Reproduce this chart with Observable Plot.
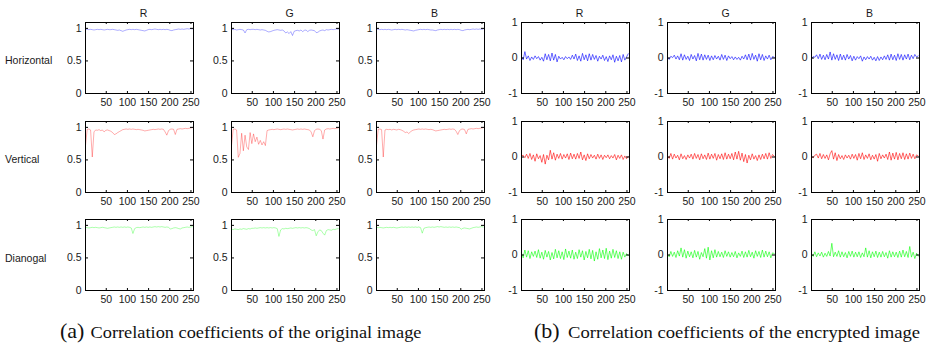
<!DOCTYPE html>
<html><head><meta charset="utf-8">
<script src="https://cdn.jsdelivr.net/npm/d3@7"></script>
<script src="https://cdn.jsdelivr.net/npm/@observablehq/plot@0.6"></script>
<style>
body{margin:0;background:#fff;}
#fig{position:relative;width:930px;height:343px;overflow:hidden;}
#fig svg.panel{position:absolute;}
#overlay{position:absolute;left:0;top:0;pointer-events:none;}
</style></head><body><div id="fig"></div>
<script>
// ---------- data ----------
const channels = ["R", "G", "B"];
const directions = ["Horizontal", "Vertical", "Dianogal"];
const captions = ["Correlation coefficients of the original image", "Correlation coefficients of the encrypted image"];
const captionTags = ["(a)", "(b)"];
const xTicks = [50, 100, 150, 200, 250];
const yTicksOrig = [0, 0.5, 1];
const yTicksEnc = [-1, 0, 1];
const sampleStart = 1, sampleStep = 4;   // pixel positions 1,5,9,...,253

// original image: horizontal
const hR = [0.99,0.985,0.98,0.985,0.98,0.975,0.98,0.985,0.98,0.985,0.98,
0.975,0.98,0.985,0.98,0.98,0.985,0.98,0.975,0.97,0.975,
0.965,0.955,0.965,
0.975,0.98,0.985,0.98,0.985,0.98,0.985,0.98,0.975,0.97,
0.965,0.96,0.97,
0.98,0.985,0.98,0.985,0.99,0.985,0.98,0.985,0.98,0.985,0.98,0.985,0.98,
0.97,0.965,0.975,
0.98,0.985,0.99,0.985,0.99,0.985,0.99,0.995,0.99,0.995,0.99];
const hG = [0.985,0.98,0.985,0.975,0.98,0.985,0.98,0.975,
0.93,
0.98,0.985,0.98,0.985,0.985,0.98,0.985,0.98,0.975,0.98,0.975,0.97,
0.955,0.945,0.95,0.96,
0.97,0.975,0.98,0.975,0.97,0.975,0.96,
0.93,0.945,0.92,0.95,0.89,0.955,
0.965,0.97,0.96,0.975,0.95,0.97,0.975,0.95,0.97,0.975,0.97,0.965,
0.935,0.94,0.96,
0.97,0.975,0.965,0.98,0.975,0.98,0.985,0.98,0.985,0.99,0.985];
const hB = [0.99,0.985,0.98,0.985,0.98,0.985,0.98,0.985,0.98,0.975,0.98,
0.985,0.98,0.985,0.98,0.985,0.98,0.975,0.98,0.975,0.97,
0.965,0.96,0.97,
0.975,0.98,0.985,0.98,0.985,0.98,0.985,0.98,0.975,0.975,
0.97,0.965,0.975,
0.98,0.985,0.98,0.985,0.98,0.985,0.98,0.985,0.98,0.985,0.98,0.985,0.98,
0.97,0.965,0.975,
0.98,0.985,0.98,0.985,0.99,0.985,0.99,0.985,0.99,0.985,0.99];
// original image: vertical
const vR = [0.72,
0.97,0.975,0.96,
0.545,
0.93,0.96,0.955,0.965,0.95,0.96,
0.93,
0.955,0.96,0.95,0.94,
0.92,0.89,0.9,0.92,0.935,
0.95,0.965,0.97,0.975,0.97,0.975,0.97,0.975,0.97,0.965,0.97,0.965,0.96,
0.955,0.945,0.95,0.955,
0.96,0.965,0.97,0.965,0.97,0.975,0.97,0.975,0.97,
0.93,0.88,0.95,
0.97,0.975,0.97,
0.89,
0.97,0.975,0.98,0.975,0.98,0.985,0.98,0.985,0.99,0.995];
const vG = [0.72,
0.97,0.975,0.96,
0.54,0.6,0.91,0.64,0.88,0.7,0.66,0.92,0.75,0.9,0.78,0.85,0.74,0.8,0.73,0.78,0.72,
0.95,
0.96,0.965,0.97,0.965,0.97,0.975,0.97,0.965,0.97,0.975,0.97,0.975,0.97,0.965,0.96,0.965,0.97,0.975,0.97,0.975,0.97,0.975,0.97,0.965,0.96,
0.93,0.855,0.95,
0.97,0.975,0.97,
0.95,0.82,
0.96,0.975,0.98,0.975,0.98,0.985,0.98,0.985,0.99];
const vB = [0.72,
0.97,0.975,0.965,
0.545,
0.96,0.97,0.965,0.97,0.96,0.97,0.965,0.96,0.97,0.965,0.955,
0.94,0.92,0.93,0.905,0.93,0.95,
0.96,0.965,0.97,0.975,0.97,0.975,0.97,0.975,0.97,0.965,0.97,0.965,
0.955,0.945,0.95,0.955,
0.96,0.965,0.97,0.965,0.97,0.975,0.97,0.975,0.97,
0.94,0.89,0.95,
0.97,0.975,0.965,
0.9,
0.97,0.975,0.98,0.975,0.98,0.985,0.98,0.985,0.99,0.995];
// original image: diagonal
const dR = [0.97,0.965,0.96,0.965,0.97,0.965,0.97,0.965,0.96,0.965,0.97,0.965,0.96,0.955,0.96,0.965,0.97,0.975,0.97,0.975,0.97,0.975,0.97,0.975,0.97,0.975,0.97,0.96,
0.875,
0.95,
0.965,0.97,0.965,0.97,0.975,0.97,0.975,0.97,0.975,0.97,0.975,0.98,0.975,0.98,0.975,0.98,0.975,0.97,0.975,0.97,
0.945,0.95,
0.96,0.965,0.96,0.95,
0.945,
0.96,0.965,0.97,0.975,0.97,0.975,0.98];
const dG = [0.94,0.935,0.945,0.94,0.935,0.945,0.94,0.95,0.945,0.94,0.95,0.945,0.955,
0.955,0.96,0.955,0.96,0.965,0.96,0.965,0.96,0.965,0.96,0.965,0.96,0.965,0.96,0.95,
0.83,
0.93,
0.95,0.945,0.955,0.95,0.955,0.96,0.955,0.96,0.965,0.96,0.965,0.96,0.965,0.96,0.965,0.96,0.95,
0.93,0.92,0.935,
0.84,
0.9,0.93,0.92,
0.88,
0.85,
0.92,0.935,0.93,0.925,0.94,0.935,0.945,0.95];
const dB = [0.97,0.965,0.97,0.965,0.96,0.965,0.97,0.965,0.97,0.965,0.97,0.965,0.96,0.965,0.97,0.975,0.97,0.975,0.97,0.975,0.97,0.975,0.97,0.975,0.97,0.975,0.965,
0.88,
0.955,
0.965,0.97,0.975,0.97,0.975,0.97,0.975,0.98,0.975,0.98,0.975,0.97,0.975,0.97,0.975,0.97,0.975,0.97,0.975,0.97,0.965,
0.94,
0.955,0.96,0.955,0.95,
0.945,
0.955,0.965,0.97,0.975,0.97,0.975,0.98,0.975];

// encrypted image: horizontal
const ehR = [0.04,-0.05,0.18,-0.03,0.06,-0.07,0.03,-0.04,
0.06,-0.02,0.04,-0.06,0.02,-0.09,0.12,-0.05,
0.10,-0.08,0.14,-0.06,0.10,-0.11,0.05,-0.03,
0.02,-0.05,0.04,-0.02,0.03,-0.04,0.08,-0.03,
0.11,-0.07,0.06,-0.09,0.13,-0.05,0.09,-0.08,
0.12,-0.06,0.10,-0.04,0.07,-0.09,0.05,-0.03,
0.08,-0.07,0.04,-0.10,0.06,-0.05,0.09,-0.12,
0.05,-0.08,0.07,-0.11,0.10,-0.06,0.03,0.12];
const ehG = [0.02,-0.04,0.05,0.01,0.08,-0.03,0.06,-0.05,
0.12,-0.06,0.09,-0.04,0.05,-0.07,0.10,-0.03,
0.07,-0.08,0.13,-0.05,0.11,-0.06,0.09,-0.04,
0.08,-0.07,0.06,-0.05,0.07,-0.03,0.05,-0.06,
0.10,-0.04,0.08,-0.07,0.06,-0.02,0.04,-0.05,
0.03,-0.04,0.02,-0.06,0.05,-0.03,0.09,-0.05,
0.11,-0.06,0.13,-0.04,0.08,-0.09,0.12,-0.05,
0.10,-0.07,0.06,-0.03,0.08,-0.05,0.04,0.02];
const ehB = [-0.03,0.04,0.02,0.09,-0.02,0.11,-0.04,0.08,
-0.05,0.10,-0.03,0.17,-0.06,0.12,-0.04,0.09,
-0.07,0.11,-0.05,0.08,-0.06,0.10,-0.03,0.07,
-0.08,0.05,-0.06,0.04,-0.02,0.06,-0.09,0.03,
-0.05,0.04,-0.03,0.05,-0.06,0.02,-0.08,0.04,
-0.07,0.03,-0.05,0.06,-0.04,0.09,-0.06,0.11,
-0.05,0.08,-0.07,0.12,-0.04,0.10,-0.06,0.09,
-0.03,0.11,-0.05,0.08,-0.02,0.10,0.03,0.06];
// encrypted image: vertical
const evR = [0.03,0.05,-0.02,0.08,-0.04,0.10,-0.07,0.06,
-0.12,0.09,-0.05,0.04,-0.15,0.07,-0.20,0.05,
-0.08,0.19,-0.06,0.12,-0.09,0.08,-0.04,0.10,
-0.06,0.07,-0.03,0.09,-0.07,0.11,-0.05,0.08,
-0.06,0.10,-0.04,0.14,-0.08,0.06,-0.10,0.09,
-0.05,0.07,-0.03,0.05,-0.06,0.08,-0.04,0.06,
-0.07,0.05,-0.02,0.06,-0.05,0.04,-0.03,0.07,
-0.08,0.05,-0.04,0.06,-0.07,0.03,-0.05,0.02];
const evG = [0.02,-0.04,0.10,-0.06,0.08,-0.03,0.05,-0.08,
0.09,-0.05,0.04,-0.07,0.06,-0.03,0.08,-0.06,
0.10,-0.04,0.07,-0.08,0.09,-0.05,0.06,-0.07,
0.11,-0.06,0.08,-0.04,0.10,-0.09,0.07,-0.05,
0.09,-0.07,0.12,-0.06,0.08,-0.05,0.10,-0.08,
0.14,-0.06,0.16,-0.09,0.11,-0.13,0.07,-0.17,
0.05,-0.08,0.09,-0.06,0.04,-0.10,0.06,-0.07,
0.08,-0.05,0.10,-0.06,0.12,-0.04,0.07,0.02];
const evB = [0.01,-0.02,0.05,0.08,-0.03,0.10,-0.05,0.07,
-0.04,0.06,-0.08,0.09,0.18,-0.06,0.12,-0.10,
0.07,-0.05,0.04,-0.07,0.06,-0.03,0.05,-0.06,
0.08,-0.04,0.07,-0.09,0.10,-0.05,0.12,-0.07,
0.06,-0.04,0.09,-0.08,0.05,-0.06,0.07,-0.12,
0.10,-0.05,0.06,-0.03,0.08,-0.07,0.14,-0.09,
0.11,-0.06,0.13,-0.08,0.10,-0.05,0.12,-0.07,
0.09,-0.06,0.11,-0.04,0.08,-0.05,0.06,0.03];
// encrypted image: diagonal
const edR = [0.05,-0.08,0.14,-0.06,0.12,-0.10,0.09,-0.04,
0.11,-0.07,0.15,-0.09,0.08,-0.12,0.13,-0.06,
0.10,-0.14,0.07,-0.11,0.16,-0.08,0.12,-0.10,
0.09,-0.13,0.17,-0.07,0.11,-0.09,0.14,-0.12,
0.08,-0.10,0.15,-0.06,0.12,-0.14,0.10,-0.08,
0.16,-0.11,0.13,-0.17,0.09,-0.12,0.18,-0.08,
0.14,-0.10,0.19,-0.13,0.11,-0.09,0.16,-0.07,
0.12,-0.10,0.09,-0.12,0.08,-0.06,0.04,-0.02];
const edG = [0.02,-0.05,0.10,-0.04,0.08,-0.07,0.12,-0.03,
0.20,-0.06,0.15,-0.09,0.11,-0.05,0.09,-0.08,
0.13,-0.06,0.10,-0.12,0.07,-0.05,0.18,-0.09,
0.22,-0.14,0.12,-0.08,0.15,-0.06,0.10,-0.05,
0.08,-0.07,0.12,-0.04,0.09,-0.06,0.07,-0.05,
0.10,-0.08,0.06,-0.04,0.11,-0.07,0.09,-0.06,
0.13,-0.05,0.08,-0.09,0.12,-0.04,0.10,-0.07,
0.14,-0.06,0.11,-0.05,0.09,-0.08,0.06,0.04];
const edB = [0.02,-0.04,0.09,-0.05,0.06,-0.03,0.08,-0.06,
0.05,-0.04,0.10,-0.03,0.33,-0.05,0.08,-0.04,
0.12,-0.06,0.09,-0.05,0.07,-0.08,0.10,-0.04,
0.11,-0.06,0.08,-0.05,0.09,-0.07,0.06,-0.05,
0.20,-0.06,0.12,-0.08,0.09,-0.05,0.11,-0.07,
0.08,-0.06,0.10,-0.05,0.07,-0.09,0.12,-0.06,
0.09,-0.05,0.08,-0.07,0.11,-0.06,0.14,-0.05,
0.10,-0.07,0.24,-0.06,0.08,-0.10,0.05,-0.03];

const original = [[hR, hG, hB], [vR, vG, vB], [dR, dG, dB]];
const encrypted = [[ehR, ehG, ehB], [evR, evG, evB], [edR, edG, edB]];
const rowColors = ["#0000ff", "#ff0000", "#00ff00"];

// ---------- layout ----------
const fig = document.getElementById("fig");
const SANS = "'Liberation Sans', Arial, Helvetica, sans-serif";
const SERIF = "'Liberation Serif', 'Times New Roman', serif";
const panelLefts = [85, 231, 376, 521, 667, 811];
const panelTops = [22, 121, 219];
const W = 108, H = 71, mL = 32, mR = 4, mT = 4, mB = 22;

function panel(values, color, enc) {
  const data = values.map((v, i) => ({x: sampleStart + i * sampleStep, y: v}));
  const yt = enc ? yTicksEnc : yTicksOrig;
  return Plot.plot({
    width: W + mL + mR, height: H + mT + mB,
    marginLeft: mL, marginRight: mR, marginTop: mT, marginBottom: mB,
    x: {domain: [1, 256], label: null},
    y: {domain: enc ? [-1, 1] : [0, 1.09], label: null},
    style: {fontSize: "10.5px", fontFamily: SANS, color: "#1a1a1a", background: "transparent", overflow: "visible"},
    marks: [
      Plot.line(data, {x: "x", y: "y", stroke: color, strokeWidth: enc ? 0.7 : 0.6, strokeOpacity: enc ? 0.85 : 0.55}),
      Plot.tickY(yt, {y: d => d, insetRight: W - 3, stroke: "#000"}),
      Plot.tickY(yt, {y: d => d, insetLeft: W - 3, stroke: "#000"}),
      Plot.tickX(xTicks, {x: d => d, insetTop: H - 2, stroke: "#000"}),
      Plot.tickX(xTicks, {x: d => d, insetBottom: H - 2, stroke: "#000"}),
      Plot.axisX(xTicks, {tickSize: 0, tickPadding: 5, tickFormat: d => String(d)}),
      Plot.axisY(yt, {tickSize: 0, tickPadding: 4, tickFormat: d => String(d)}),
      Plot.frame({stroke: "#000", strokeWidth: 1})
    ]
  });
}

for (let r = 0; r < 3; r++) {
  for (let c = 0; c < 6; c++) {
    const enc = c >= 3;
    const vals = enc ? encrypted[r][c - 3] : original[r][c];
    const svg = panel(vals, rowColors[r], enc);
    svg.classList.add("panel");
    svg.style.left = (panelLefts[c] - mL) + "px";
    svg.style.top = (panelTops[r] - mT) + "px";
    fig.appendChild(svg);
  }
}

// text overlay
const ov = d3.select(fig).append("svg").attr("id", "overlay").attr("width", 930).attr("height", 343);
for (let c = 0; c < 6; c++) {
  ov.append("text").attr("x", panelLefts[c] + W / 2 + 4.5).attr("y", 17.3)
    .attr("text-anchor", "middle").attr("font-family", SANS).attr("font-size", 10.5).attr("fill", "#1a1a1a")
    .text(channels[c % 3]);
}
const rowBase = [64.2, 162.5, 261.5];
directions.forEach((d, r) => {
  ov.append("text").attr("x", 5).attr("y", rowBase[r])
    .attr("font-family", SANS).attr("font-size", 10.5).attr("fill", "#1a1a1a").text(d);
});
const capTagX = [60, 534], capTextX = [90.5, 568], capTextLen = [331, 352];
captions.forEach((t, i) => {
  const tx = ov.append("text").attr("y", 337.5).attr("font-family", SERIF).attr("fill", "#111");
  tx.append("tspan").attr("x", capTagX[i]).attr("font-size", 22).text(captionTags[i]);
  tx.append("tspan").attr("x", capTextX[i]).attr("font-size", 17.5)
    .attr("textLength", capTextLen[i]).attr("lengthAdjust", "spacingAndGlyphs").text(t);
});
</script>
</body></html>
